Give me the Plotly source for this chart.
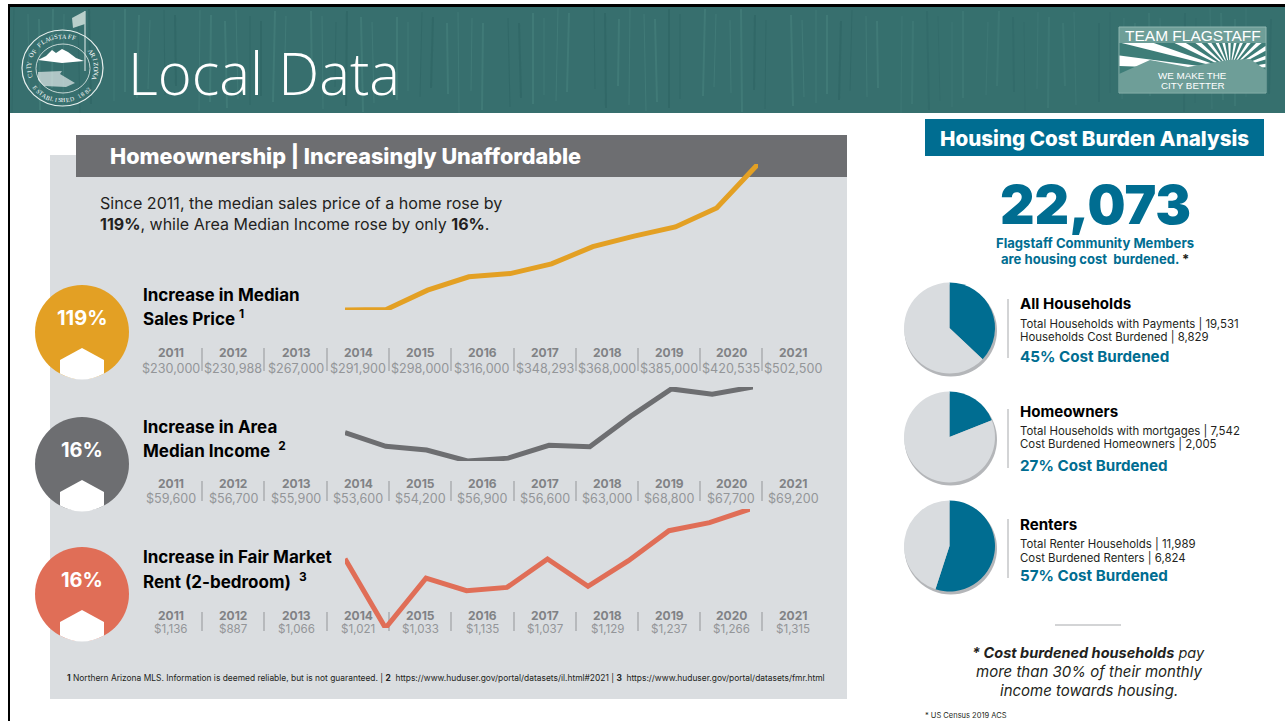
#!/usr/bin/env python3
# Flagstaff "Local Data" housing slide
import math
import plotly.graph_objects as go

W = 1285
H = 721

# Data
years = [2011, 2012, 2013, 2014, 2015, 2016, 2017, 2018, 2019, 2020, 2021]
sales_price = [230000, 230988, 267000, 291900, 298000, 316000, 348293, 368000, 385000, 420535, 502500]
median_income = [59600, 56700, 55900, 53600, 54200, 56900, 56600, 63000, 68800, 67700, 69200]
fair_rent = [1136, 887, 1066, 1021, 1033, 1135, 1037, 1129, 1237, 1266, 1315]

pie_labels = ["Cost burdened", "Other"]
all_households = [37, 63]
homeowners = [19, 81]
renters = [55, 45]

ORANGE = "#E3A024"
GRAY = "#6D6E71"
CORAL = "#E06E57"
BLUE = "#006D91"
PANEL = "#DADDE0"
PIE_GRAY = "#D9DCDF"
YEAR_GRAY = "#808285"
VALUE_GRAY = "#939598"
TEAL = "#376F6E"
FONT = "Inter"

fig = go.Figure()
shapes = []
notes = []


def rect(x0, y0, x1, y1, fill, line=None, width=1):
    shapes.append(dict(type="rect", x0=x0, y0=y0, x1=x1, y1=y1, xref="x", yref="y", layer="below",
                       fillcolor=fill, line=dict(color=line or fill, width=width if line else 0)))


def ellipse(x0, y0, x1, y1, fill, line=None, width=1):
    shapes.append(dict(type="circle", x0=x0, y0=y0, x1=x1, y1=y1, xref="x", yref="y", layer="below",
                       fillcolor=fill, line=dict(color=line or fill, width=width if line else 0)))


def path(d, fill, line=None, width=1):
    shapes.append(dict(type="path", path=d, xref="x", yref="y", layer="below",
                       fillcolor=fill, line=dict(color=line or fill, width=width if line else 0)))


def seg(x0, y0, x1, y1, color, width=1):
    shapes.append(dict(type="line", x0=x0, y0=y0, x1=x1, y1=y1, xref="x", yref="y", layer="below",
                       line=dict(color=color, width=width)))


def text(x, y, s, size, color="#000000", anchor="left", weight=None, family=FONT, angle=0):
    font = dict(family=family, size=size, color=color)
    if weight:
        font["weight"] = weight
    notes.append(dict(x=x, y=y, xref="x", yref="y", text=s, showarrow=False, xanchor=anchor,
                      yanchor="middle", font=font, textangle=angle, borderpad=0, borderwidth=0))


def arc_text(s, cx, cy, rx, ry, start, step, size, flip=False):
    # one rotated letter at a time, the seal text runs round the ring
    for i, ch in enumerate(s):
        if ch == " ":
            continue
        deg = start + i * step
        a = math.radians(deg)
        rot = deg - 180 if flip else deg
        text(cx + rx * math.sin(a), cy - ry * math.cos(a), ch, size, "#FFFFFF", "center",
             family="Liberation Serif", angle=rot)


# banner
rect(10, 7, W, 113, TEAL)
for i in range(90):
    sx = 14 + (i * 197) % 1268
    top = 8 + (i * 7) % 16
    bottom = 113 - (i * 11) % 28
    tone = "rgba(90,150,145,0.28)" if i % 3 else "rgba(38,90,90,0.3)"
    seg(sx, top, sx + (i % 5) - 2, bottom, tone, 1 + i % 2)
rect(880, 7, W, 113, "rgba(55,115,112,0.35)")
rect(8, 4, W, 7, "#000000")
rect(8, 4, 10, H, "#000000")

# city seal
ellipse(22, 30, 103, 106, "rgba(0,0,0,0)", "#E8F0EE", 1.2)
ellipse(36, 44, 90, 93, "rgba(0,0,0,0)", "#E8F0EE", 0.8)
path("M 38 60 L 46 56 L 52 50 L 56 53 L 62 49 L 68 52 L 76 58 L 84 61 L 62 63 Z", "#FFFFFF")
path("M 38 72 L 62 71 L 60 74 L 75 83 L 66 87 L 44 86 L 38 80 Z", "rgba(255,255,255,0.6)")
seg(85, 11, 85, 71, "#E8F0EE", 1)
path("M 85 11 L 72 18 L 73 28 L 85 24 Z", "#B9CFCB")
arc_text("CITY OF FLAGSTAFF", 62.5, 68, 34, 32, -105, 7.8, 6.5)
arc_text("ARIZONA", 62.5, 68, 34, 32, 58, 8.5, 6.5)
arc_text("ESTABLISHED 1882", 62.5, 68, 34.5, 32.5, 232, -6.8, 6, flip=True)

text(128, 72, "Local Data", 58, "#FFFFFF", family="Open Sans", weight=300)

# team logo
LOGO_FILL = "#6E9E98"
rect(1119, 27, 1266, 93, LOGO_FILL, "#8FB6B0", 1)
rect(1119.5, 43, 1265.5, 76, "#3E7D78")
ox, oy = 1230, 70
for k in range(15):
    ends = []
    for deg in (-88 + k * 12, -88 + k * 12 + 5.5):
        a = math.radians(deg)
        dx, dy = math.sin(a), -math.cos(a)
        # run the ray out to the edge of the band
        t = (oy - 43) / max(-dy, 1e-6)
        if dx < 0:
            t = min(t, (1119.5 - ox) / dx)
        elif dx > 0:
            t = min(t, (1265.5 - ox) / dx)
        ends.append((ox + t * dx, oy + t * dy))
    path(f"M {ox} {oy} L {ends[0][0]:.1f} {ends[0][1]:.1f} L {ends[1][0]:.1f} {ends[1][1]:.1f} Z", "#FFFFFF")
path("M 1119 74 L 1150 60 L 1188 67 L 1228 60 L 1250 59 L 1266 70 L 1266 92.5 L 1119 92.5 Z", LOGO_FILL)
text(1192.5, 35, "TEAM FLAGSTAFF", 15.5, "#FFFFFF", "center", family="Liberation Sans")
text(1192.5, 75, "WE MAKE THE", 9.8, "#FFFFFF", "center", family="Liberation Sans")
text(1192.5, 85.5, "CITY BETTER", 9.8, "#FFFFFF", "center", family="Liberation Sans")

# left panel
rect(50, 155, 847, 699, PANEL)
rect(76, 135, 847, 177, GRAY)
text(110, 156, "Homeownership | Increasingly Unaffordable", 21.6, "#FFFFFF", weight=800)
text(100, 203, "Since 2011, the median sales price of a home rose by", 16.1, "#231F20")
text(100, 224, "<b>119%</b>, while Area Median Income rose by only <b>16%</b>.", 16, "#231F20")

rows = [
    dict(vals=sales_price, color=ORANGE, badge="119%", cy=332, year_y=352, val_y=368, val_size=12.6,
         title=["Increase in Median", "Sales Price <sup>1</sup>"], title_y=[295, 317],
         dom=(345, 758), top=164, bottom=310, sep=(348, 371)),
    dict(vals=median_income, color=GRAY, badge="16%", cy=464, year_y=483, val_y=498, val_size=12.6,
         title=["Increase in Area", "Median Income  <sup>2</sup>"], title_y=[427, 449],
         dom=(345, 753), top=387, bottom=461, sep=(481, 501)),
    dict(vals=fair_rent, color=CORAL, badge="16%", cy=594, year_y=615, val_y=629, val_size=11.6,
         title=["Increase in Fair Market", "Rent (2-bedroom)  <sup>3</sup>"], title_y=[557, 580],
         dom=(345, 750), top=509, bottom=628, sep=(612, 631)),
]

col_x = [171, 233, 296, 358, 420, 482, 545, 607, 669, 731, 793]
sep_x = [202, 264, 327, 389, 451, 514, 576, 638, 700, 762]

layout_axes = {}
for n, row in enumerate(rows):
    cx, cy = 82, row["cy"]
    ellipse(cx - 47, cy - 47, cx + 47, cy + 47, row["color"])
    # white house cut into the bottom of the badge
    path(f"M {cx} {cy+16} L {cx+22} {cy+28} L {cx+22} {cy+41.5} Q {cx} {cy+53.5} {cx-22} {cy+41.5} "
         f"L {cx-22} {cy+28} Z", "#FFFFFF")
    text(cx, cy - 14, row["badge"], 20, "#FFFFFF", "center", weight=700)
    for line, ly in zip(row["title"], row["title_y"]):
        text(143, ly, line, 17, "#000000", weight=700)
    for i, year in enumerate(years):
        text(col_x[i], row["year_y"], str(year), 12, YEAR_GRAY, "center", weight=700)
        text(col_x[i], row["val_y"], f"${row['vals'][i]:,}", row["val_size"], VALUE_GRAY, "center")
    for sx in sep_x:
        seg(sx, row["sep"][0], sx, row["sep"][1], VALUE_GRAY, 1)

    # each series gets its own hidden axes, placed over its stretch of the panel
    k = n + 2
    fig.add_trace(go.Scatter(x=years, y=row["vals"], mode="lines", xaxis=f"x{k}", yaxis=f"y{k}",
                             cliponaxis=False, hoverinfo="skip", showlegend=False,
                             line=dict(color=row["color"], width=5, shape="linear")))
    layout_axes[f"xaxis{k}"] = dict(domain=[row["dom"][0] / W, row["dom"][1] / W], range=[2011, 2021],
                                    visible=False, anchor=f"y{k}", fixedrange=True)
    layout_axes[f"yaxis{k}"] = dict(domain=[1 - row["bottom"] / H, 1 - row["top"] / H],
                                    range=[min(row["vals"]), max(row["vals"])],
                                    visible=False, anchor=f"x{k}", fixedrange=True)

text(67, 677, "<b>1</b> Northern Arizona MLS. Information is deemed reliable, but is not guaranteed. | <b>2</b>  "
     "https://www.huduser.gov/portal/datasets/il.html#2021 | <b>3</b>  https://www.huduser.gov/portal/datasets/fmr.html",
     8.42, "#231F20")

# right column
rect(925, 119, 1264, 156, BLUE)
text(1094.5, 138, "Housing Cost Burden Analysis", 20.6, "#FFFFFF", "center", weight=800)
text(1095.5, 204, "22,073", 53.5, BLUE, "center", weight=900)
text(1094.5, 243, "Flagstaff Community Members", 13.1, BLUE, "center", weight=700)
text(1094.5, 259, "are housing cost  burdened. <span style='color:#231F20'>*</span>", 13.1, BLUE, "center", weight=700)

blocks = [
    dict(vals=all_households, cy=328, name="All Households", y=[303, 324, 337, 356],
         l1="Total Households with Payments | 19,531", l2="Households Cost Burdened | 8,829",
         pct="45% Cost Burdened", sep=(299, 358)),
    dict(vals=homeowners, cy=437, name="Homeowners", y=[411, 431, 444, 465],
         l1="Total Households with mortgages | 7,542", l2="Cost Burdened Homeowners | 2,005",
         pct="27% Cost Burdened", sep=(409, 468)),
    dict(vals=renters, cy=546, name="Renters", y=[524, 544, 558, 575],
         l1="Total Renter Households | 11,989", l2="Cost Burdened Renters | 6,824",
         pct="57% Cost Burdened", sep=(519, 578)),
]
R = 45.5
PIE_X = 949.5
for b in blocks:
    cy = b["cy"]
    ellipse(PIE_X - R + 0.5, cy - R + 2, PIE_X + R + 2, cy + R + 3, "#B4B6B9")
    fig.add_trace(go.Pie(labels=pie_labels, values=b["vals"], sort=False, direction="clockwise",
                         rotation=0, textinfo="none", textposition="none", hoverinfo="skip", showlegend=False,
                         marker=dict(colors=[BLUE, PIE_GRAY], line=dict(width=0)),
                         domain=dict(x=[(PIE_X - R) / W, (PIE_X + R) / W],
                                     y=[1 - (cy + R) / H, 1 - (cy - R) / H])))
    seg(1008, b["sep"][0], 1008, b["sep"][1], "#A7A9AC", 1)
    text(1020, b["y"][0], b["name"], 15.1, "#000000", weight=700)
    text(1020, b["y"][1], b["l1"], 11.4, "#231F20")
    text(1020, b["y"][2], b["l2"], 11.4, "#231F20")
    text(1020, b["y"][3], b["pct"], 15.2, BLUE, weight=700)

seg(1055, 625, 1121, 625, "#A7A9AC", 1)
text(1088.5, 652, "<b><i>* Cost burdened households</i></b> <i>pay</i>", 14.5, "#231F20", "center")
text(1088.5, 671, "<i>more than 30% of their monthly</i>", 15, "#231F20", "center")
text(1088.5, 690, "<i>income towards housing.</i>", 15, "#231F20", "center")
text(925, 715, "* US Census 2019 ACS", 7.5, "#231F20")

fig.update_layout(
    width=W, height=H, autosize=False,
    margin=dict(l=0, r=0, t=0, b=0, pad=0),
    paper_bgcolor="#FFFFFF", plot_bgcolor="rgba(0,0,0,0)",
    font=dict(family=FONT),
    showlegend=False,
    # base axes run in slide pixels, the panels and texts hang off them
    xaxis=dict(domain=[0, 1], range=[0, W], visible=False, fixedrange=True),
    yaxis=dict(domain=[0, 1], range=[H, 0], visible=False, fixedrange=True),
    shapes=shapes,
    annotations=notes,
    **layout_axes,
)

fig.write_html("out.html", post_script="document.body.style.margin='0';", config=dict(displayModeBar=False))
